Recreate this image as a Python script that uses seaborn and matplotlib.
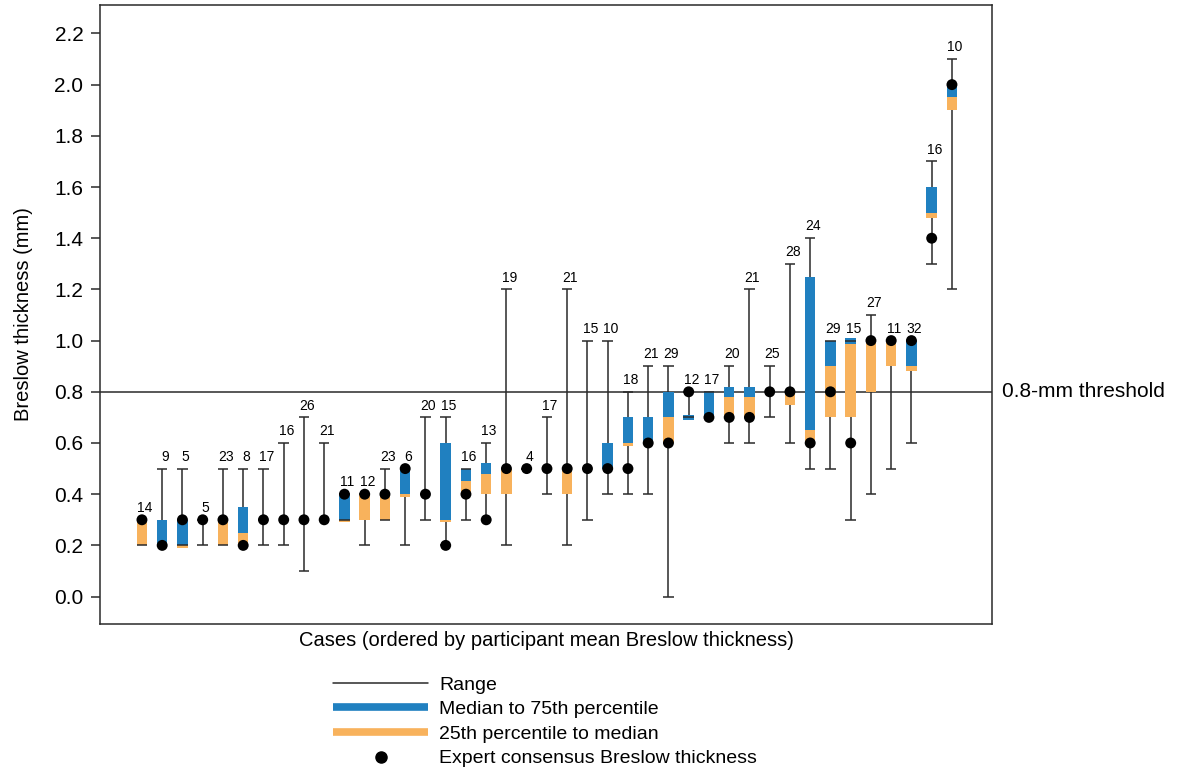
import numpy as np
import pandas as pd
import matplotlib
matplotlib.use("Agg")
import matplotlib.pyplot as plt
from matplotlib.lines import Line2D
import seaborn as sns

# Participants per case and their Breslow readings (mm), cases ordered by mean
n_participants = [14, 9, 5, 5, 23, 8, 17, 16, 26, 21, 11, 12, 23, 6, 20, 15, 16, 13,
                  19, 4, 17, 21, 15, 10, 18, 21, 29, 12, 17, 20, 21, 25, 28, 24, 29,
                  15, 27, 11, 32, 16, 10]
range_min = [0.2, 0.2, 0.2, 0.2, 0.2, 0.2, 0.2, 0.2, 0.1, 0.3, 0.3, 0.2, 0.3, 0.2,
             0.3, 0.2, 0.3, 0.3, 0.2, 0.5, 0.4, 0.2, 0.3, 0.4, 0.4, 0.4, 0.0, 0.7,
             0.7, 0.6, 0.6, 0.7, 0.6, 0.5, 0.5, 0.3, 0.4, 0.5, 0.6, 1.3, 1.2]
pct25 = [0.2, 0.2, 0.19, 0.3, 0.2, 0.2, 0.3, 0.3, 0.3, 0.3, 0.29, 0.3, 0.3, 0.39,
         0.4, 0.29, 0.4, 0.4, 0.4, 0.5, 0.5, 0.4, 0.5, 0.5, 0.59, 0.6, 0.6, 0.69,
         0.7, 0.7, 0.7, 0.8, 0.75, 0.6, 0.7, 0.7, 0.8, 0.9, 0.88, 1.48, 1.9]
median = [0.3, 0.2, 0.2, 0.3, 0.3, 0.25, 0.3, 0.3, 0.3, 0.3, 0.3, 0.4, 0.4, 0.4,
          0.4, 0.3, 0.45, 0.48, 0.5, 0.5, 0.5, 0.5, 0.5, 0.5, 0.6, 0.6, 0.7, 0.69,
          0.7, 0.78, 0.78, 0.8, 0.8, 0.65, 0.9, 0.985, 1.0, 1.0, 0.9, 1.5, 1.95]
pct75 = [0.3, 0.3, 0.3, 0.3, 0.3, 0.35, 0.3, 0.3, 0.3, 0.3, 0.4, 0.4, 0.4, 0.5,
         0.4, 0.6, 0.5, 0.52, 0.5, 0.5, 0.5, 0.5, 0.5, 0.6, 0.7, 0.7, 0.8, 0.71,
         0.8, 0.82, 0.82, 0.8, 0.8, 1.25, 1.0, 1.01, 1.0, 1.0, 1.0, 1.6, 2.0]
range_max = [0.3, 0.5, 0.5, 0.3, 0.5, 0.5, 0.5, 0.6, 0.7, 0.6, 0.4, 0.4, 0.5, 0.5,
             0.7, 0.7, 0.5, 0.6, 1.2, 0.5, 0.7, 1.2, 1.0, 1.0, 0.8, 0.9, 0.9, 0.8,
             0.8, 0.9, 1.2, 0.9, 1.3, 1.4, 1.0, 1.0, 1.1, 1.0, 1.0, 1.7, 2.1]
expert = [0.3, 0.2, 0.3, 0.3, 0.3, 0.2, 0.3, 0.3, 0.3, 0.3, 0.4, 0.4, 0.4, 0.5,
          0.4, 0.2, 0.4, 0.3, 0.5, 0.5, 0.5, 0.5, 0.5, 0.5, 0.5, 0.6, 0.6, 0.8,
          0.7, 0.7, 0.7, 0.8, 0.8, 0.6, 0.8, 0.6, 1.0, 1.0, 1.0, 1.4, 2.0]

threshold = 0.8
y_ticks = [0.0, 0.2, 0.4, 0.6, 0.8, 1.0, 1.2, 1.4, 1.6, 1.8, 2.0, 2.2]

BLUE = "#2080c0"
ORANGE = "#f8b25c"
INK = "#2a2a2a"

sns.set_theme(style="ticks")
plt.rcParams["font.family"] = ["Liberation Sans", "DejaVu Sans"]
plt.rcParams["text.color"] = "black"
plt.rcParams["axes.labelcolor"] = "black"

df = pd.DataFrame({
    "n": n_participants, "lo": range_min, "p25": pct25, "med": median,
    "p75": pct75, "hi": range_max, "expert": expert,
})
df["case"] = np.arange(len(df))

fig = plt.figure(figsize=(11.81, 7.71), dpi=100)
ax = fig.add_axes([0.0847, 0.1907, 0.7553, 0.8028])

box_w = 0.52
ax.axhline(threshold, color=INK, lw=1.1, zorder=0.5)
ax.vlines(df["case"], df["lo"], df["hi"], color=INK, lw=1.1, zorder=1)
ax.bar(df["case"], df["med"] - df["p25"], bottom=df["p25"], width=box_w,
       color=ORANGE, lw=0, zorder=2)
ax.bar(df["case"], df["p75"] - df["med"], bottom=df["med"], width=box_w,
       color=BLUE, lw=0, zorder=2)
ax.hlines(df["hi"], df["case"] - box_w / 2, df["case"] + box_w / 2, color=INK, lw=1.1, zorder=3)
ax.hlines(df["lo"], df["case"] - box_w / 2, df["case"] + box_w / 2, color=INK, lw=1.1, zorder=3)
sns.scatterplot(data=df, x="case", y="expert", color="black", s=62, edgecolor="none",
                ax=ax, zorder=4, legend=False)

for _, row in df.iterrows():
    top = max(row["hi"], row["expert"])
    ax.annotate(str(int(row["n"])), (row["case"], top), xytext=(2, 8.5),
                textcoords="offset points", ha="center", va="center", fontsize=10,
                color="black")

ax.annotate("0.8-mm threshold", xy=(1, threshold), xycoords=("axes fraction", "data"),
            xytext=(7, 0), textcoords="offset points", va="center", ha="left",
            fontsize=15, annotation_clip=False)

ax.set_xlim(-2.07, 41.98)
ax.set_ylim(-0.107, 2.311)
ax.set_xticks([])
ax.set_yticks(y_ticks)
ax.set_yticklabels([f"{t:.1f}" for t in y_ticks])
ax.tick_params(axis="y", length=6.5, width=1.1, color=INK, pad=5.5, labelsize=15,
               labelcolor="black")
for sp in ax.spines.values():
    sp.set_visible(True)
    sp.set_color(INK)
    sp.set_linewidth(1.1)

ax.set_xlabel("Cases (ordered by participant mean Breslow thickness)", fontsize=14.5, labelpad=5)
ax.set_ylabel("Breslow thickness (mm)", fontsize=14.5, labelpad=15)

handles = [
    Line2D([], [], color=INK, lw=1.1),
    Line2D([], [], color=BLUE, lw=5.5, solid_capstyle="butt"),
    Line2D([], [], color=ORANGE, lw=5.5, solid_capstyle="butt"),
    Line2D([], [], color="black", marker="o", ls="none", markersize=8),
]
labels = ["Range", "Median to 75th percentile", "25th percentile to median",
          "Expert consensus Breslow thickness"]
fig.legend(handles, labels, loc="upper left", bbox_to_anchor=(333 / 1181, 1 - 676 / 771),
           frameon=False, fontsize=14, handlelength=4.9, handletextpad=0.57,
           labelspacing=0.36, borderpad=0, borderaxespad=0, labelcolor="black")

fig.savefig("out.png", dpi=100)
